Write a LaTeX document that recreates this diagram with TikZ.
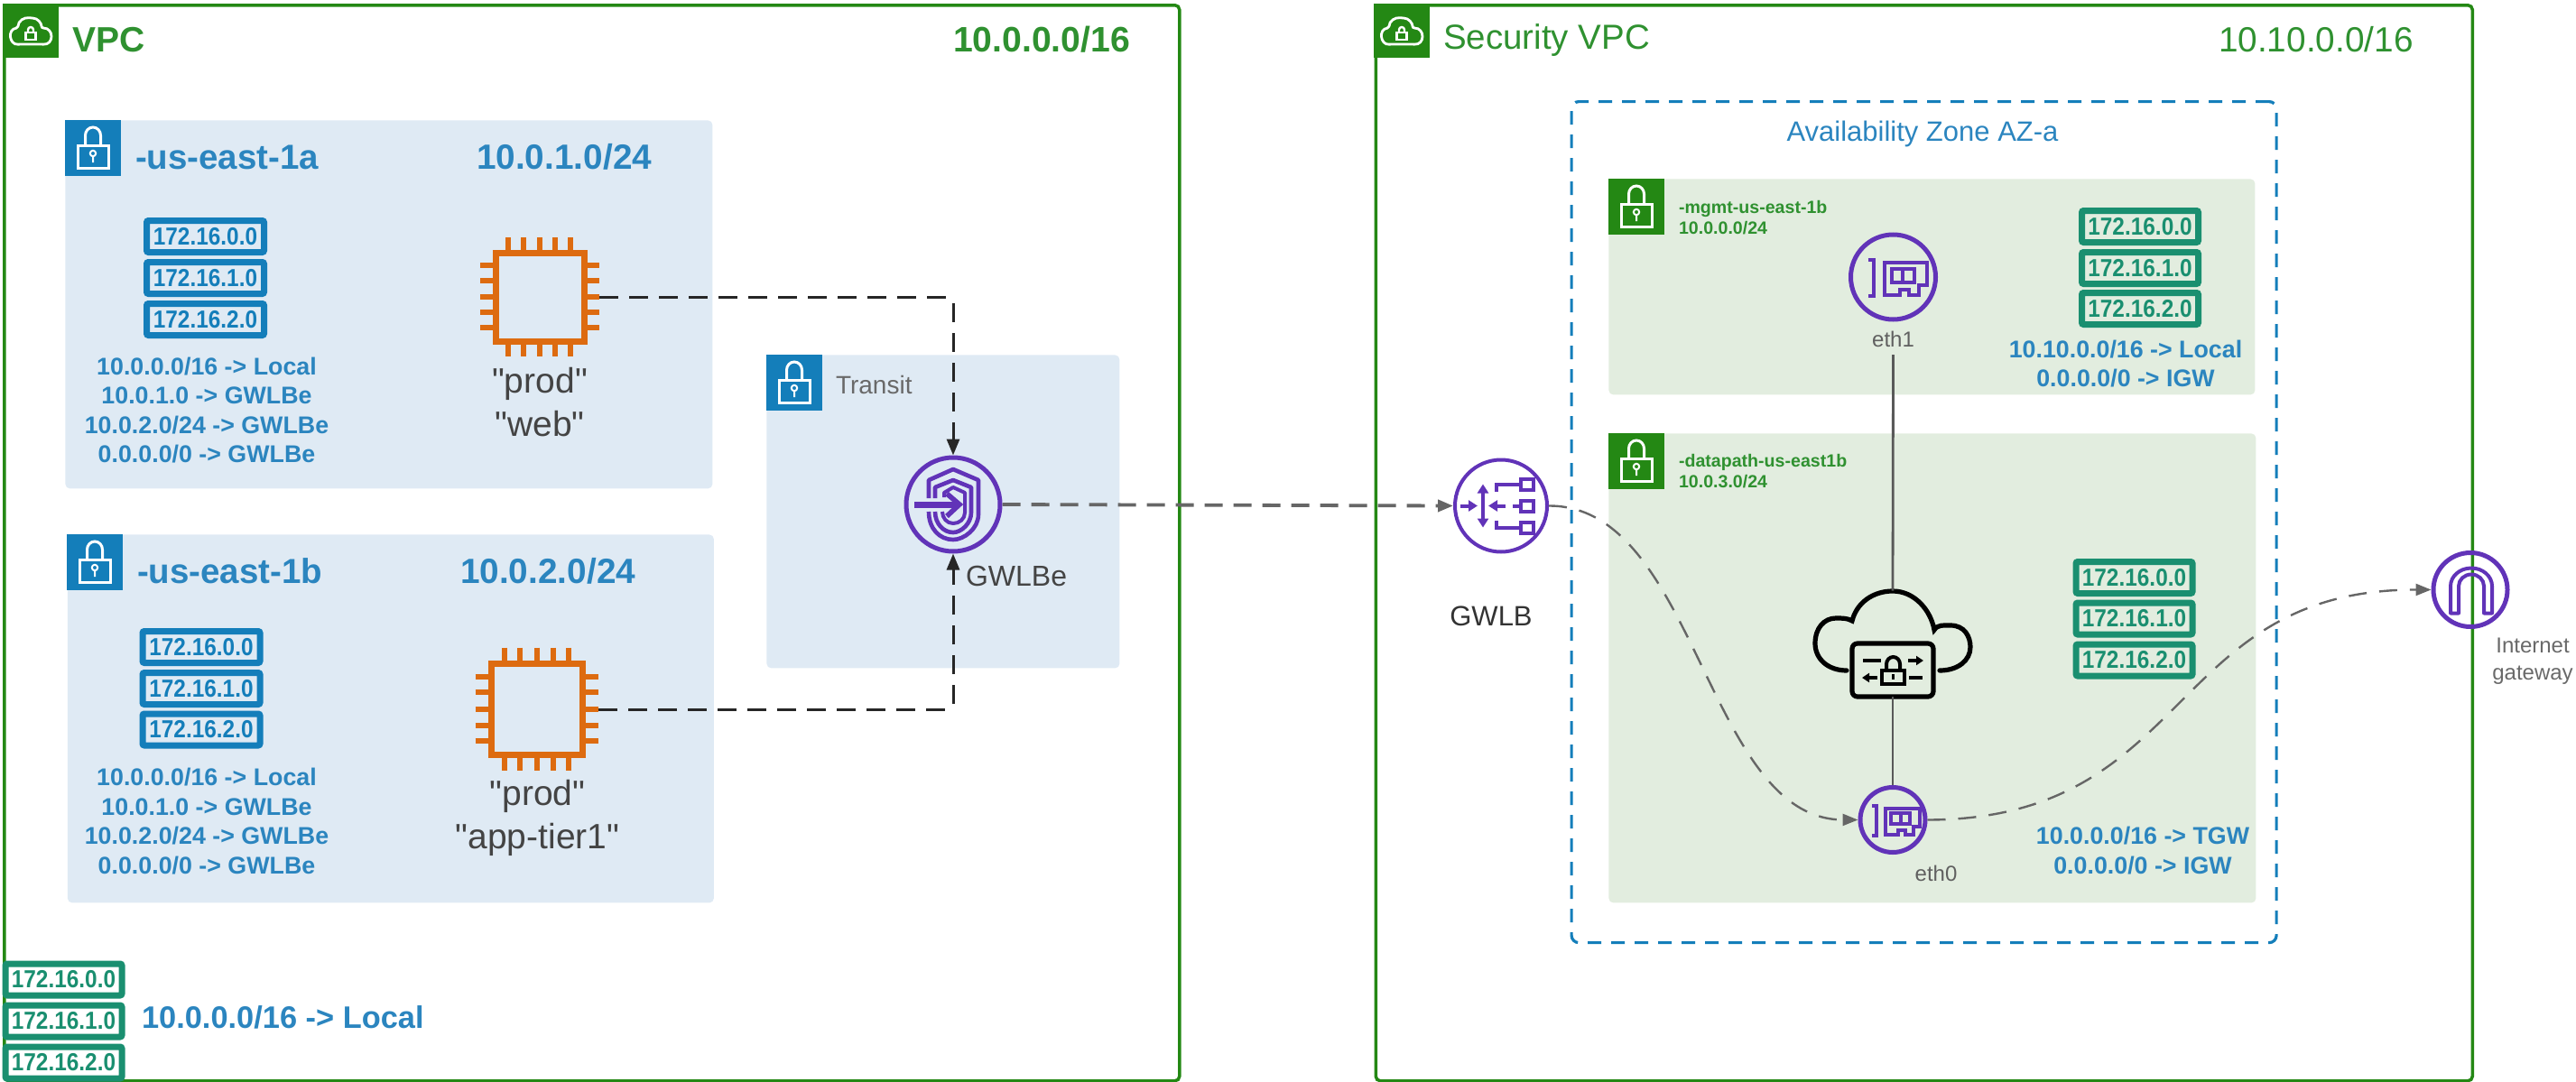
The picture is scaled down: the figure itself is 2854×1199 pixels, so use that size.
\documentclass[tikz,border=0pt]{standalone}
\usepackage{fontspec}
\usepackage{graphicx}
\setmainfont{Liberation Sans}
\newfontfamily\plainf{Liberation Sans}
\usetikzlibrary{arrows.meta}
\definecolor{vpcgreen}{HTML}{248814}
\definecolor{awsblue}{HTML}{147EBA}
\definecolor{subblue}{HTML}{DFEAF4}
\definecolor{subgreen}{HTML}{E2EDDF}
\definecolor{txtblue}{HTML}{2B85BF}
\definecolor{txtgreen}{HTML}{2F9130}
\definecolor{teal}{HTML}{1A8F70}
\definecolor{chiporange}{HTML}{DD6B10}
\definecolor{awspurple}{HTML}{6133B8}
\definecolor{linegray}{HTML}{666666}
\definecolor{txtgray}{HTML}{444444}
\newcommand{\fsz}[2]{\fontsize{#1}{#2}\selectfont}
\newcommand{\ipt}[1]{\scalebox{1}[1.12]{#1}}
\tikzset{
  txt/.style={inner sep=0pt,outer sep=0pt,align=center},
  vpcbox/.style={draw=vpcgreen,line width=1.75pt,rounded corners=2.5pt,inner sep=0pt},
  subbluebox/.style={fill=subblue,rounded corners=2.5pt,inner sep=0pt},
  subgreenbox/.style={fill=subgreen,rounded corners=2.5pt,inner sep=0pt},
  tagblue/.style={fill=awsblue,inner sep=0pt,minimum width=31pt,minimum height=31pt},
  taggreen/.style={fill=vpcgreen,inner sep=0pt,minimum width=31pt,minimum height=31pt},
  ipblue/.style={draw=awsblue,text=awsblue,line width=3.5pt,rounded corners=1pt,inner sep=0pt,
     minimum width=65pt,minimum height=17.5pt,font=\fsz{12.2}{14}\bfseries},
  ipteal/.style={draw=teal,text=teal,line width=3.5pt,rounded corners=1pt,inner sep=0pt,
     minimum width=64.5pt,minimum height=17.5pt,font=\fsz{12.2}{14}\bfseries},
  route/.style={txt,text=txtblue,font=\fsz{13.4}{16.3}\bfseries},
  hdr/.style={txt,text=txtgreen},
  subnm/.style={txt,text=txtblue,font=\fsz{19.25}{22}\bfseries},
  subip/.style={txt,text=txtblue,font=\fsz{19.4}{24}\bfseries},
  small/.style={txt,text=txtgreen,font=\fsz{9.8}{11.5}\bfseries,align=left},
  chiplabel/.style={txt,text=txtgray,font=\plainf\fsz{19.5}{24}},
  circ/.style={circle,draw=awspurple,line width=2.5pt,inner sep=0pt},
  chipnode/.style={inner sep=0pt,minimum width=66pt,minimum height=66pt},
  graydash/.style={draw=linegray,line width=1.9pt,dash pattern=on 10pt off 6pt,
     -{Triangle[length=8.5pt,width=6.5pt]}},
  graycurve/.style={draw=linegray,line width=1.2pt,dash pattern=on 10pt off 7pt,
     -{Triangle[length=8.5pt,width=6.5pt]}},
  blackdash/.style={draw=black!85,line width=1.5pt,dash pattern=on 10.5pt off 6pt,rounded corners=3pt,
     -{Triangle[length=9pt,width=7pt]}},
  solidlink/.style={draw=black!65,line width=1.4pt},
  lockicon/.pic={
    \draw[white,line width=1.5pt] (-17,-3) rectangle (17,22);
    \draw[white,line width=1.5pt] (-8.5,-3) -- (-8.5,-14) arc[start angle=180,end angle=360,x radius=8.5,y radius=9] -- (8.5,-3);
    \draw[white,line width=1pt] (0,6) circle (3.2) (0,9) -- (0,16);
  },
  cloudicon/.pic={
    \draw[white,line width=1.4pt,rounded corners=1pt]
      (-12,14) .. controls (-24,15) and (-26,-3) .. (-14,-4)
      .. controls (-14,-12) and (-7,-16) .. (0,-15)
      .. controls (8,-15) and (12,-9) .. (12,-4)
      .. controls (26,-4) and (26,15) .. (12,14) -- cycle;
    \draw[white,line width=1.2pt] (-5.5,1) rectangle (5.5,9);
    \draw[white,line width=1.2pt] (-3,1) -- (-3,-2) arc[start angle=180,end angle=360,radius=3] -- (3,1);
  },
  chipicon/.pic={
    \draw[chiporange,line width=3.5pt] (-49,-49) rectangle (49,49);
    \foreach \p in {-35,-18,0,17,34}{
      \draw[chiporange,line width=3pt] (\p,-66) -- (\p,-49) (\p,49) -- (\p,66);
      \draw[chiporange,line width=3pt] (-66,\p) -- (-49,\p) (49,\p) -- (66,\p);
    }
  },
  nicicon/.pic={
    \draw[awspurple,line width=2pt] (-28,-19) -- (-22,-19) -- (-22,21) -- (-28,21);
    \draw[awspurple,line width=2pt] (-10,-16) -- (37,-16) -- (37,9) -- (28,9) -- (28,20) -- (17,20) -- (17,14) -- (7,14) -- (7,20) -- (-10,20) -- cycle;
    \draw[awspurple,line width=2pt] (-2,-9) rectangle (23,6) (10.5,-9) -- (10.5,6);
  },
  shieldicon/.pic={
    \draw[awspurple,line width=2.3pt,line join=round] (-27,-7) -- (-27,-27) -- (0,-39) -- (28,-27) -- (28,11) .. controls (28,27) and (12,39) .. (0,39) .. controls (-15,39) and (-27,27) .. (-27,8);
    \draw[awspurple,line width=2.3pt,line join=round] (-20,-7) -- (-20,-19) -- (0,-27) -- (20,-19) -- (20,9) .. controls (20,21) and (9,31) .. (0,31) .. controls (-11,31) and (-20,21) .. (-20,8);
    \draw[awspurple,line width=2pt,line join=round] (-10,-8) -- (-10,-13) -- (0,-19) -- (13,-13) -- (13,9) .. controls (13,16) and (7,21) .. (0,21) .. controls (-7,21) and (-12,15) .. (-12,8);
    \draw[awspurple,line width=3.5pt] (-43,0) -- (5,0);
    \draw[awspurple,line width=2.8pt] (-7,-12) -- (7,0) -- (-7,13);
  },
  lbicon/.pic={
    \draw[awspurple,line width=2pt,-{Triangle[length=5pt,width=6pt]}] (-45,0) -- (-26,0);
    \draw[awspurple,line width=2pt,{Triangle[length=5pt,width=6pt]}-{Triangle[length=5pt,width=6pt]}] (-20,-24) -- (-20,24);
    \draw[awspurple,line width=2pt,-{Triangle[length=5pt,width=6pt]}] (5,0) -- (-14,0);
    \draw[awspurple,line width=2pt] (13,0) -- (22,0) (22,-6) rectangle (36,6);
    \draw[awspurple,line width=2pt] (-5,-16) -- (-5,-24) -- (22,-24) (22,-30) rectangle (36,-18);
    \draw[awspurple,line width=2pt] (-5,16) -- (-5,24) -- (22,24) (22,18) rectangle (36,30);
  },
  igwicon/.pic={
    \draw[awspurple,line width=2pt,line join=round] (-22,26) -- (-22,-4) arc[start angle=180,end angle=360,x radius=23,y radius=20] -- (24,26) -- (15,26) -- (15,-4) arc[start angle=360,end angle=180,x radius=14,y radius=13] -- (-13,26) -- cycle;
  },
  securecloud/.pic={
    \draw[black,line width=2.6pt,line cap=round]
      (-51,29) .. controls (-72,29) and (-86,16) .. (-86,-1)
      .. controls (-86,-18) and (-76,-29) .. (-63,-29)
      .. controls (-56,-29) and (-50,-29) .. (-45,-26)
      .. controls (-40,-46) and (-22,-59) .. (0,-59)
      .. controls (24,-59) and (42,-38) .. (46,-16)
      .. controls (50,-22) and (56,-21) .. (64,-21)
      .. controls (80,-21) and (86,-8) .. (86,3)
      .. controls (86,18) and (72,29) .. (52,29);
    \draw[black,line width=2.6pt,rounded corners=3pt] (-45,-1) rectangle (45,58);
    \draw[black,line width=2pt] (-33,18) -- (-13,18);
    \draw[black,line width=2pt,-{Triangle[length=4pt,width=5pt]}] (17,18) -- (34,18);
    \draw[black,line width=2pt,-{Triangle[length=4pt,width=5pt]}] (-17,37) -- (-34,37);
    \draw[black,line width=2pt] (18,37) -- (33,37);
    \draw[black,line width=2pt] (-12,29) rectangle (13,44);
    \draw[black,line width=2pt] (-7,29) -- (-7,22) arc[start angle=180,end angle=360,x radius=7.5,y radius=8] -- (8,29);
    \draw[black,line width=1.2pt] (0.5,33) -- (0.5,39);
  }
}
\begin{document}
\begin{tikzpicture}[x=0.5pt,y=-0.5pt]
\useasboundingbox (0,0) rectangle (2854,1199);

% VPC frames
\node[vpcbox,minimum width=651pt,minimum height=596pt,anchor=north west] (vpcA) at (3,4) {};
\node[vpcbox,minimum width=607.5pt,minimum height=596pt,anchor=north west] (vpcB) at (1522.5,4) {};
\node[taggreen,minimum height=30pt,anchor=north west] (vpcAtag) at (3,4) {};
\pic at (34,35) {cloudicon};
\node[taggreen,minimum height=30pt,anchor=north west] (vpcBtag) at (1522,4) {};
\pic at (1553,35) {cloudicon};
\node[hdr,anchor=west,font=\fsz{19.5}{22}\bfseries] (vpcAname) at (80,44) {VPC};
\node[hdr,anchor=west,font=\fsz{19.6}{24}\bfseries] (vpcAcidr) at (1056,44) {10.0.0.0/16};
\node[hdr,anchor=west,font=\fsz{19.25}{22}] (vpcBname) at (1599,45) {Security VPC};
\node[hdr,anchor=west,font=\fsz{19.4}{24}] (vpcBcidr) at (2458,44) {10.10.0.0/16};

% Subnet 1a
\node[subbluebox,minimum width=358.5pt,minimum height=204pt,anchor=north west] (sub1) at (72,133) {};
\node[tagblue,anchor=north west] (sub1tag) at (72,133) {};
\pic at (103,164) {lockicon};
\node[subnm,anchor=west] (sub1name) at (150,174) {-us-east-1a};
\node[subip,anchor=west] (sub1cidr) at (528,174) {10.0.1.0/24};
\node[ipblue] (a1) at (227.5,262) {\ipt{172.16.0.0}};
\node[ipblue] (a2) at (227.5,308) {\ipt{172.16.1.0}};
\node[ipblue] (a3) at (227.5,354) {\ipt{172.16.2.0}};
\node[route] (aroutes) at (229,454.5) {10.0.0.0/16 -> Local\\10.0.1.0 -> GWLBe\\10.0.2.0/24 -> GWLBe\\0.0.0.0/0 -> GWLBe};
\node[chipnode] (chip1) at (598,329) {};
\pic at (598,329) {chipicon};
\node[chiplabel] (chip1lbl) at (598,446) {"prod"\\"web"};

% Subnet 1b
\node[subbluebox,minimum width=358pt,minimum height=204pt,anchor=north west] (sub2) at (74.5,592) {};
\node[tagblue,anchor=north west] (sub2tag) at (74,592) {};
\pic at (105,623) {lockicon};
\node[subnm,anchor=west] (sub2name) at (152,632.5) {-us-east-1b};
\node[subip,anchor=west] (sub2cidr) at (510,632.5) {10.0.2.0/24};
\node[ipblue] (b1) at (223,717) {\ipt{172.16.0.0}};
\node[ipblue] (b2) at (223,763) {\ipt{172.16.1.0}};
\node[ipblue] (b3) at (223,808.5) {\ipt{172.16.2.0}};
\node[route] (broutes) at (229,910) {10.0.0.0/16 -> Local\\10.0.1.0 -> GWLBe\\10.0.2.0/24 -> GWLBe\\0.0.0.0/0 -> GWLBe};
\node[chipnode,minimum width=68pt,minimum height=68pt] (chip2) at (595,786) {};
\pic[scale=1.035] at (595,786) {chipicon};
\node[chiplabel] (chip2lbl) at (595.5,906) {"prod"\\"app-tier1"};

% Transit
\node[subbluebox,minimum width=195.5pt,minimum height=173.5pt,anchor=north west] (transit) at (849,393) {};
\node[tagblue,anchor=north west] (transittag) at (849,393) {};
\pic at (880,424) {lockicon};
\node[txt,text=txtgray!80,anchor=west,font=\fsz{14}{16}] (transitname) at (926,426) {Transit};
\node[circ,minimum size=52pt] (gwlbe) at (1056,559) {};
\pic at (1056,559) {shieldicon};
\node[txt,text=txtgray,anchor=west,font=\fsz{16}{18}] (gwlbelbl) at (1070,638) {GWLBe};

% Bottom-left table
\node[ipteal,fill=white] (c1) at (70.5,1085.5) {\ipt{172.16.0.0}};
\node[ipteal,fill=white] (c2) at (70.5,1131.5) {\ipt{172.16.1.0}};
\node[ipteal,fill=white] (c3) at (70.5,1177.5) {\ipt{172.16.2.0}};
\node[route,anchor=west,font=\fsz{17.2}{20}\bfseries] (croute) at (157,1127) {10.0.0.0/16 -> Local};

% Availability zone
\node[draw=awsblue,line width=1.6pt,dash pattern=on 7.5pt off 5.5pt,rounded corners=4pt,inner sep=0pt,minimum width=390.5pt,minimum height=466pt,anchor=north west] (az) at (1739.5,111) {};
\node[txt,text=txtblue,font=\fsz{15.5}{18}] (azname) at (2130,148) {Availability Zone AZ-a};

% mgmt subnet
\node[subgreenbox,minimum width=358pt,minimum height=119.5pt,anchor=north west] (mgmt) at (1782,198) {};
\node[taggreen,anchor=north west] (mgmttag) at (1782,198) {};
\pic at (1813,229) {lockicon};
\node[small,anchor=west] (mgmtname) at (1860,241.5) {-mgmt-us-east-1b\\10.0.0.0/24};
\node[ipteal] (d1) at (2371,251) {\ipt{172.16.0.0}};
\node[ipteal] (d2) at (2371,297) {\ipt{172.16.1.0}};
\node[ipteal] (d3) at (2371,342) {\ipt{172.16.2.0}};
\node[route] (droutes) at (2355,403) {10.10.0.0/16 -> Local\\0.0.0.0/0 -> IGW};
\node[circ,minimum size=47pt] (eth1) at (2097.5,307) {};
\pic at (2097.5,307) {nicicon};
\node[txt,text=txtgray!85,font=\fsz{12}{14},minimum height=17pt] (eth1lbl) at (2097.5,376) {eth1};

% datapath subnet
\node[subgreenbox,minimum width=358.5pt,minimum height=260pt,anchor=north west] (dp) at (1782,480) {};
\node[taggreen,anchor=north west] (dptag) at (1782,480) {};
\pic at (1813,511) {lockicon};
\node[small,anchor=west] (dpname) at (1860,522.5) {-datapath-us-east1b\\10.0.3.0/24};
\node[ipteal] (e1) at (2364.5,640) {\ipt{172.16.0.0}};
\node[ipteal] (e2) at (2364.5,685.5) {\ipt{172.16.1.0}};
\node[ipteal] (e3) at (2364.5,731.5) {\ipt{172.16.2.0}};
\node[route] (eroutes) at (2374,942.5) {10.0.0.0/16 -> TGW\\0.0.0.0/0 -> IGW};
\node[inner sep=0pt,minimum width=86pt,minimum height=58.5pt] (sdwan) at (2097,713.5) {};
\pic at (2097,714) {securecloud};
\node[circ,minimum size=36pt] (eth0) at (2097,908.5) {};
\pic[scale=.81] at (2097,908.5) {nicicon};
\node[txt,text=txtgray!85,font=\fsz{12}{14}] (eth0lbl) at (2145,968) {eth0};

% GWLB and IGW
\node[circ,line width=2pt,minimum size=51pt] (gwlb) at (1663,560.5) {};
\pic at (1663,560.5) {lbicon};
\node[txt,text=black!80,font=\fsz{15.5}{18}] (gwlblbl) at (1652,683) {GWLB};
\node[circ,minimum size=41pt] (igw) at (2737,653.5) {};
\pic at (2737,653.5) {igwicon};
\node[txt,text=txtgray!80,font=\fsz{12}{15}] (igwlbl) at (2806,733) {Internet\\gateway};

% Connectors
\draw[blackdash] (chip1.east) -| (gwlbe.north);
\draw[blackdash] (chip2.east) -| (gwlbe.south);
\draw[graydash] (gwlbe.east) -- (gwlb.west);
\draw[graycurve] (gwlb.east) .. controls (1880,560) and (1890,908) .. (eth0.west);
\draw[graycurve] (eth0.east) .. controls (2430,908) and (2400,653) .. (igw.west);
\draw[solidlink] (eth1lbl.south) -- (sdwan.north);
\draw[solidlink] (sdwan.south) -- (eth0.north);
\end{tikzpicture}
\end{document}
